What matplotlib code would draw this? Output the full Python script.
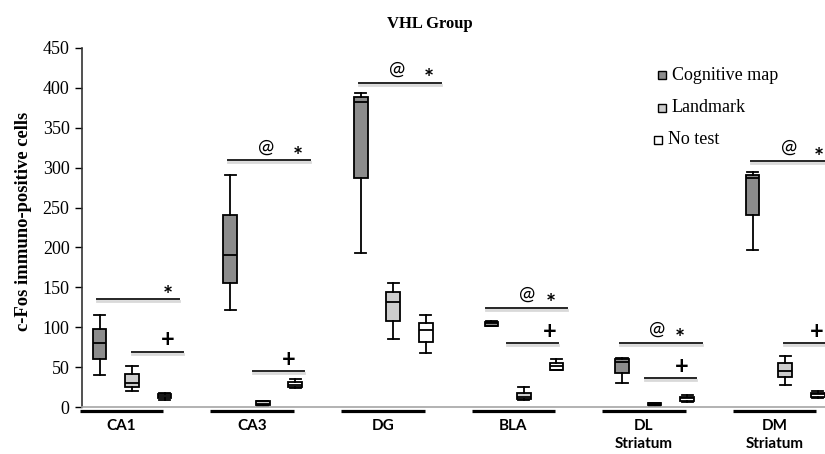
import numpy as np
import matplotlib
matplotlib.use('Agg')
import matplotlib.pyplot as plt
from matplotlib.patches import Rectangle
import matplotlib.transforms as mtransforms

# 数据: 每个脑区的 [最小值, Q1, 中位数, Q3, 最大值]
regions = ['CA1', 'CA3', 'DG', 'BLA', 'DL\nStriatum', 'DM\nStriatum']
cog_stats = [[40, 60, 80, 98, 115],
             [122, 156, 191, 241, 291],
             [193, 287, 382, 388, 393],
             [101, 102, 105, 107, 108],
             [30, 43, 57, 60, 61],
             [197, 241, 287, 291, 295]]
lm_stats = [[20, 25, 30, 41, 52],
            [1, 2, 4, 7, 8],
            [85, 108, 131, 144, 156],
            [9, 10, 13, 18, 25],
            [1, 2, 3, 5, 5],
            [28, 37, 45, 55, 64]]
nt_stats = [[9, 11, 14, 16, 18],
            [24, 25, 28, 31, 35],
            [68, 81, 96, 105, 115],
            [46, 47, 51, 55, 60],
            [6, 8, 11, 13, 15],
            [11, 13, 16, 18, 20]]
group_names = ['Cognitive map', 'Landmark', 'No test']
group_colors = ['#8c8c8c', '#cdcdcd', '#ffffff']

# 显著性标记 (长线: @ 和 *, 短线: +)
long_y = [135, 309, 406, 124, 80, 308]
long_x0 = [-0.19, -0.185, -0.18, -0.21, -0.183, -0.182]
long_x1 = [0.44, 0.443, 0.444, 0.413, 0.445, 0.445]
at_x = [None, 0.104, 0.107, 0.107, 0.103, 0.11]
star_x = [0.356, 0.35, 0.352, 0.29, 0.277, 0.335]
short_y = [69, 45, None, 80, 36, 80]
short_x0 = [0.08, 0.007, None, -0.05, 0.008, 0.075]
plus_x = [0.356, 0.282, None, 0.28, 0.29, 0.325]

plt.rcParams['font.family'] = ['Liberation Serif', 'DejaVu Serif']

fig = plt.figure(figsize=(8.25, 4.54), dpi=100)
ax = fig.add_axes([82 / 825, 47 / 454, 1 - 82 / 825, 359 / 454])

offsets = [-0.168, 0.081, 0.33]
idx = np.arange(len(regions))

def to_bxp(s):
    return dict(whislo=s[0], q1=s[1], med=s[2], q3=s[3], whishi=s[4], fliers=[])

for stats, off, col in zip([cog_stats, lm_stats, nt_stats], offsets, group_colors):
    bp = ax.bxp([to_bxp(s) for s in stats], positions=idx + off, widths=0.105,
                capwidths=0.085, patch_artist=True, showfliers=False,
                boxprops=dict(facecolor=col, edgecolor='black', linewidth=1.3),
                medianprops=dict(color='black', linewidth=1.3),
                whiskerprops=dict(color='black', linewidth=1.3),
                capprops=dict(color='black', linewidth=1.3),
                manage_ticks=False)

# 显著性线和符号
sym_font = ['Lato', 'DejaVu Sans']
for i in idx:
    ax.plot([i + long_x0[i], i + long_x1[i]], [long_y[i] - 2, long_y[i] - 2],
            color='#d9d9d9', lw=2, clip_on=False, zorder=1)
    ax.plot([i + long_x0[i], i + long_x1[i]], [long_y[i], long_y[i]],
            color='#262626', lw=1.4, clip_on=False, zorder=2)
    if at_x[i] is not None:
        ax.text(i + at_x[i], long_y[i] + 17, '@', fontsize=14, family=sym_font,
                ha='center', va='center')
    ax.text(i + star_x[i], long_y[i] + 4, '*', fontsize=17, family=sym_font,
            fontweight='bold', ha='center', va='center')
    if short_y[i] is not None:
        x0 = i + short_x0[i]
        ax.plot([x0, x0 + 0.39], [short_y[i] - 2, short_y[i] - 2],
                color='#d9d9d9', lw=2, clip_on=False, zorder=1)
        ax.plot([x0, x0 + 0.39], [short_y[i], short_y[i]],
                color='#262626', lw=1.4, clip_on=False, zorder=2)
        ax.text(i + plus_x[i], short_y[i] + 15, '+', fontsize=17, family=sym_font,
                fontweight='bold', ha='center', va='center')

ax.set_xlim(-0.302, 5.386)
ax.set_ylim(0, 450)
ax.set_yticks(np.arange(0, 451, 50))
ax.tick_params(axis='y', direction='out', length=5, width=1, labelsize=13, pad=4)
ax.set_xticks([])
for s in ['top', 'right']:
    ax.spines[s].set_visible(False)
ax.spines['left'].set_color('#333333')
ax.spines['left'].set_linewidth(1.2)
ax.spines['bottom'].set_color('#a6a6a6')
ax.spines['bottom'].set_linewidth(1.2)

# 分类轴下方的粗黑线和标签
trans = mtransforms.blended_transform_factory(ax.transData, ax.transAxes)
for i, name in enumerate(regions):
    ax.plot([i - 0.32, i + 0.32], [-0.011, -0.011], color='black', lw=2.3,
            transform=trans, clip_on=False, solid_capstyle='butt')
    ax.text(i, -0.033, name, transform=trans, ha='center', va='top',
            fontsize=11, fontweight='bold', family=['Lato', 'DejaVu Sans'],
            linespacing=1.4)

fig.text(430 / 825, 1 - 24 / 454, 'VHL Group', ha='center', va='center',
         fontsize=12, fontweight='bold')
fig.text(24 / 825, 1 - 221 / 454, 'c-Fos immuno-positive cells', ha='center',
         va='center', rotation=90, fontsize=13.4, fontweight='bold')

# 图例
leg_y = [75, 108, 140]
leg_x = [662, 662, 658]
for name, col, ly, lx in zip(group_names, group_colors, leg_y, leg_x):
    fig.add_artist(Rectangle(((lx - 4) / 825, 1 - (ly - 4) / 454 - 8 / 454),
                             8 / 825, 8 / 454, transform=fig.transFigure,
                             facecolor=col, edgecolor='black', lw=1))
    fig.text((lx + 10) / 825, 1 - ly / 454, name, ha='left', va='center', fontsize=13)

plt.savefig('out.png', dpi=100)
